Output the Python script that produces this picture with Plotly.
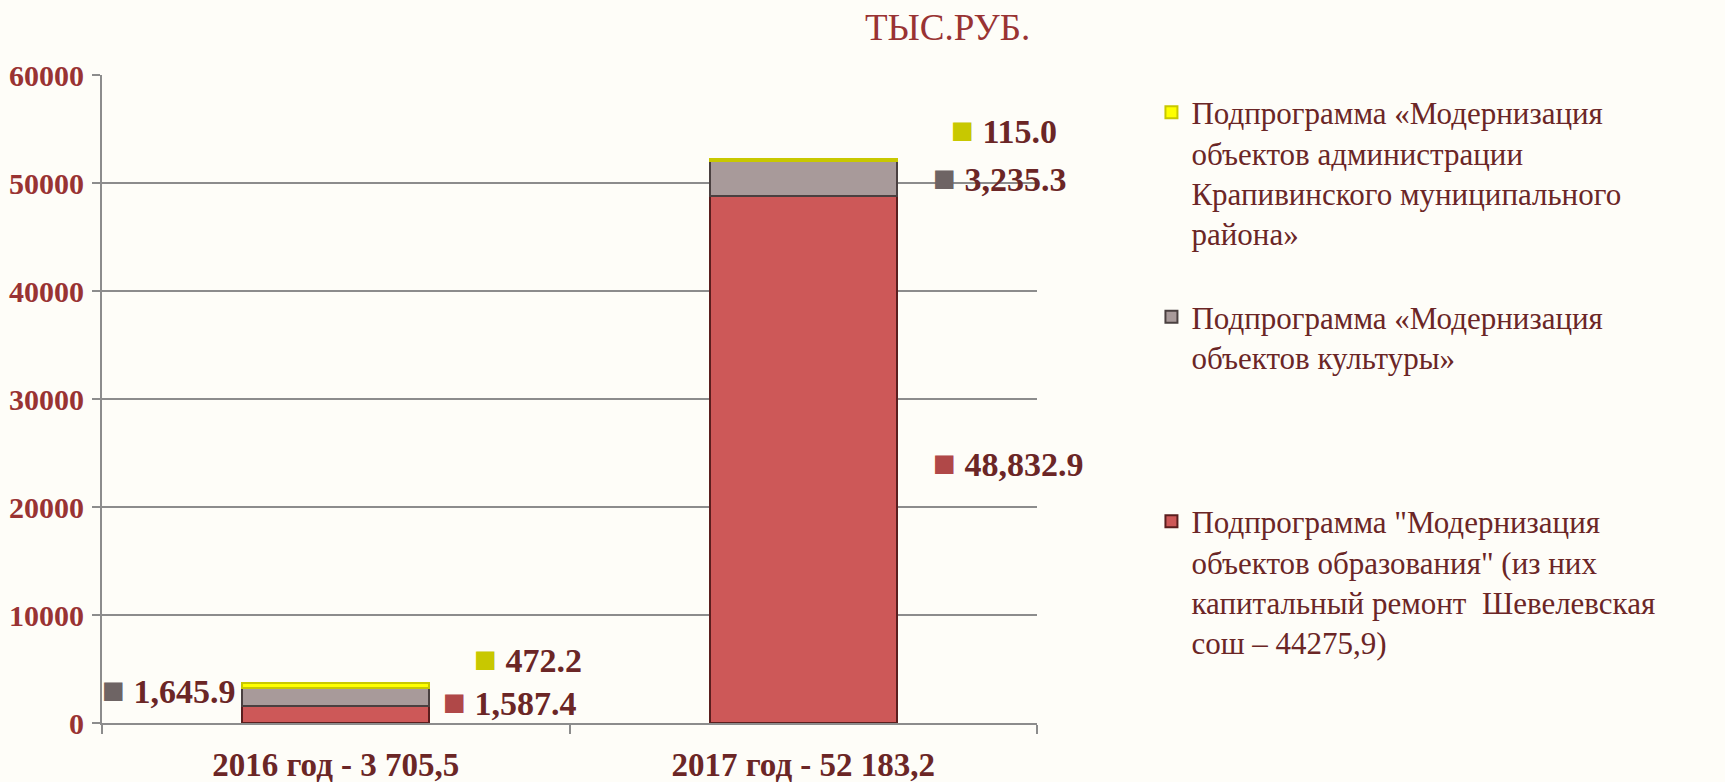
import plotly.graph_objects as go

categories = ["2016 год - 3 705,5", "2017 год - 52 183,2"]
education = [1587.4, 48832.9]
culture = [1645.9, 3235.3]
admin = [472.2, 115.0]

names = [
    "Подпрограмма \"Модернизация<br>объектов образования\" (из них<br>капитальный ремонт  Шевелевская<br>сош – 44275,9)",
    "Подпрограмма «Модернизация<br>объектов культуры»<br> <br> <br> ",
    "Подпрограмма «Модернизация<br>объектов администрации<br>Крапивинского муниципального<br>района»<br> ",
]
colors = ["#CD5858", "#A89A9A", "#FFFF00"]
lines = ["#5A1E1E", "#4A4040", "#C8C800"]
key_colors = ["#B04848", "#6E6464", "#C8C800"]

TEXT = "#6B2626"
FONT = "Liberation Serif"

fig = go.Figure()
for vals, nm, c, lc in zip([education, culture, admin], names, colors, lines):
    fig.add_trace(go.Bar(x=categories, y=vals, name=nm, marker=dict(color=c, line=dict(color=lc, width=2)),
                         width=0.40))

# data label annotations (value + legend key)
series = [education, culture, admin]
offsets = {
    (0, 0): (105, 12), (0, 1): (-236, 7), (0, 2): (136, 27),
    (1, 0): (128, -4), (1, 1): (128, 0), (1, 2): (146, 30),
}
for ci, cat in enumerate(categories):
    base = 0.0
    for si, vals in enumerate(series):
        v = vals[ci]
        mid = base + v / 2
        base += v
        dx, dy = offsets[(ci, si)]
        fig.add_annotation(
            x=cat, y=mid, xref="x", yref="y", xanchor="left", yanchor="middle",
            xshift=dx, yshift=dy, showarrow=False,
            text=f"<span style='color:{key_colors[si]};font-size:38px'>■</span> {v:,.1f}",
            font=dict(family=FONT, size=34, color=TEXT, weight="bold"),
        )

fig.add_annotation(text="ТЫС.РУБ.", xref="paper", yref="paper", x=1.0, y=1.0, xanchor="right",
                   yanchor="middle", yshift=48, xshift=-5, showarrow=False,
                   font=dict(family=FONT, size=37, color="#993333"))

fig.update_layout(
    width=1725, height=782,
    barmode="stack",
    paper_bgcolor="#FEFDF8", plot_bgcolor="#FEFDF8",
    margin=dict(l=102, r=688, t=75, b=59, autoexpand=False),
    showlegend=True,
    legend=dict(
        xref="container", yref="container", x=0.6675, y=0.8906, xanchor="left", yanchor="top",
        traceorder="reversed", valign="top", tracegroupgap=0, maxheight=760,
        font=dict(family=FONT, size=31, color=TEXT), bgcolor="rgba(0,0,0,0)",
        itemwidth=30,
    ),
    xaxis=dict(
        range=[-0.5, 1.5], automargin=False,
        showline=True, linecolor="#8C8C8C", linewidth=2,
        ticks="outside", tickson="boundaries", ticklen=9, tickcolor="#8C8C8C", tickwidth=2,
        tickfont=dict(family=FONT, size=33, color=TEXT, weight="bold"),
        ticklabelstandoff=11,
    ),
    yaxis=dict(
        range=[0, 60000], dtick=10000, tickformat="d", automargin=False,
        showline=True, linecolor="#8C8C8C", linewidth=2,
        showgrid=True, gridcolor="#8C8C8C", gridwidth=2,
        ticks="outside", ticklen=8, tickcolor="#8C8C8C", tickwidth=2,
        tickfont=dict(family=FONT, size=30, color="#993333", weight="bold"),
        ticklabelstandoff=2, zeroline=False,
    ),
)

fig.write_html("out.html", config={"displayModeBar": False},
               post_script="document.body.style.margin='0';document.body.style.background='#FEFDF8';")
